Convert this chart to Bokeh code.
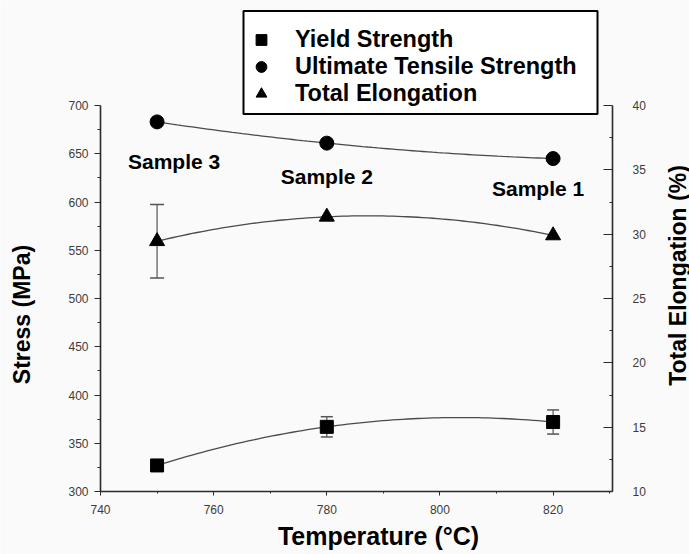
import math
import numpy as np
from bokeh.plotting import figure
from bokeh.models import (Range1d, LinearAxis, Legend, LegendItem, Whisker, TeeHead,
                          ColumnDataSource, BoxAnnotation, FixedTicker, Label)
from bokeh.embed import file_html
from bokeh.resources import INLINE
from bokeh.core.properties import value

# ---------------- data ----------------
temperature = [750, 780, 820]
yield_strength = [327, 367, 372]
yield_err = [0, 10.5, 12.5]
uts = [683, 661, 645]
uts_err = [0, 0, 0]
elongation = [29.45, 31.35, 29.9]
elong_err = [2.85, 0, 0]
sample_names = ["Sample 3", "Sample 2", "Sample 1"]

x_ticks = [740, 760, 780, 800, 820]
x_end = 830.5
stress_ticks = [300, 350, 400, 450, 500, 550, 600, 650, 700]
elong_ticks = [10, 15, 20, 25, 30, 35, 40]

x_title = "Temperature (°C)"
y_title = "Stress (MPa)"
y2_title = "Total Elongation (%)"

# ---------------- style / layout ----------------
W, H = 689, 554
BG = "#fafafa"
FONT = "Liberation Sans"
AX = "#2a2a2a"
LINE = "#4a4a4a"

# pixel box of the axes inside the canvas
AX_L, AX_R, AX_T, AX_B = 100, 612, 105, 491

def minors(t, extra=None):
    m = [(a + b) / 2 for a, b in zip(t, t[1:])]
    if extra is not None:
        m.append(extra)
    return m

def extend(lo, hi, p_lo, p_hi, before, after):
    per = (hi - lo) / (p_hi - p_lo)
    return lo - before * per, hi + after * per

x_lo = x_ticks[0]
s_lo, s_hi = stress_ticks[0], stress_ticks[-1]
e_lo, e_hi = elong_ticks[0], elong_ticks[-1]
xr = extend(x_lo, x_end, AX_L, AX_R, AX_L, W - AX_R)
sr = extend(s_lo, s_hi, AX_T, AX_B, H - AX_B, AX_T)
er = extend(e_lo, e_hi, AX_T, AX_B, H - AX_B, AX_T)

p = figure(width=W, height=H, x_range=Range1d(*xr), y_range=Range1d(*sr),
           output_backend="svg", toolbar_location=None,
           min_border_left=0, min_border_right=0, min_border_top=0, min_border_bottom=0,
           background_fill_color=BG, border_fill_color=BG)
p.extra_y_ranges = {"elong": Range1d(*er)}
p.outline_line_color = None
p.grid.visible = False

# bottom axis
xa = p.xaxis[0]
xa.fixed_location = s_lo
xa.bounds = (x_lo, x_end)
xa.ticker = FixedTicker(ticks=x_ticks, minor_ticks=minors(x_ticks, 830))
xa.major_tick_out = 4
xa.major_tick_in = 0
xa.minor_tick_out = 2
xa.minor_tick_in = 0
xa.major_label_standoff = 9

# left axis
ya = p.yaxis[0]
ya.fixed_location = x_lo
ya.bounds = (s_lo, s_hi)
ya.ticker = FixedTicker(ticks=stress_ticks, minor_ticks=minors(stress_ticks))
ya.major_tick_out = 6
ya.major_tick_in = 0
ya.minor_tick_out = 3
ya.minor_tick_in = 0
ya.major_label_standoff = 6

# right axis
ra = LinearAxis(y_range_name="elong", fixed_location=x_end,
                ticker=FixedTicker(ticks=elong_ticks, minor_ticks=minors(elong_ticks)))
ra.bounds = (e_lo, e_hi)
ra.major_tick_in = 9
ra.major_tick_out = 0
ra.minor_tick_in = 3
ra.minor_tick_out = 0
ra.major_label_standoff = 20
p.add_layout(ra, "right")

for ax in (xa, ya, ra):
    ax.axis_line_color = AX
    ax.axis_line_width = 1.6
    ax.major_tick_line_color = AX
    ax.minor_tick_line_color = AX
    ax.major_label_text_font = FONT
    ax.major_label_text_font_size = "12px"
    ax.major_label_text_color = "#3a3a3a"

# axis titles (screen units, measured from the frame's bottom-left = canvas bottom-left)
title_style = dict(x_units="screen", y_units="screen", text_font=FONT,
                   text_font_style="bold", text_color="black",
                   text_align="center", text_baseline="middle")
p.add_layout(Label(x=378, y=19, text=x_title, text_font_size="25px", **title_style))
p.add_layout(Label(x=21, y=240, text=y_title, angle=math.pi / 2,
                   text_font_size="23px", **title_style))
p.add_layout(Label(x=677, y=279, text=y2_title, angle=math.pi / 2,
                   text_font_size="23px", **title_style))

# ---------------- trend curves through the data ----------------
xs = np.linspace(temperature[0], temperature[-1], 80)
for vals, rng in ((yield_strength, "default"), (uts, "default"), (elongation, "elong")):
    coef = np.polyfit(temperature, vals, 2)
    p.line(xs, np.polyval(coef, xs), line_color=LINE, line_width=1.3, y_range_name=rng)

# ---------------- error bars ----------------
def add_whisker(vals, errs, rng, cap):
    idx = [i for i, e in enumerate(errs) if e > 0]
    if not idx:
        return
    src = ColumnDataSource(dict(
        base=[temperature[i] for i in idx],
        upper=[vals[i] + errs[i] for i in idx],
        lower=[vals[i] - errs[i] for i in idx]))
    w = Whisker(source=src, base="base", upper="upper", lower="lower", dimension="height",
                line_color="#555555", line_width=1.2, y_range_name=rng,
                upper_head=TeeHead(size=cap, line_color="#555555", line_width=1.5),
                lower_head=TeeHead(size=cap, line_color="#555555", line_width=1.5))
    w.level = "underlay"
    p.add_layout(w)

add_whisker(yield_strength, yield_err, "default", 12)
add_whisker(uts, uts_err, "default", 12)
add_whisker(elongation, elong_err, "elong", 14)

# ---------------- markers ----------------
r_ys = p.scatter(temperature, yield_strength, marker="square", size=13, color="black")
r_uts = p.scatter(temperature, uts, marker="circle", size=14, color="black")
r_el = p.scatter(temperature, elongation, marker="triangle", size=15, color="black",
                 y_range_name="elong")

# sample labels, placed relative to the UTS points
label_src = ColumnDataSource(dict(x=temperature, y=uts, text=sample_names,
                                  xo=[17, 0, -15], yo=[40, 33, 30]))
p.text(x="x", y="y", text="text", x_offset="xo", y_offset="yo", source=label_src,
       text_font=value(FONT), text_font_style="bold", text_font_size="21px",
       text_align="center", text_baseline="middle", text_color="black")

# ---------------- legend ----------------
box = BoxAnnotation(left=243, right=597, top=H - 10.5, bottom=H - 113.5,
                    left_units="screen", right_units="screen",
                    top_units="screen", bottom_units="screen",
                    fill_color="white", fill_alpha=1.0,
                    line_color="black", line_alpha=1.0, line_width=2)
p.add_layout(box)

legend = Legend(items=[LegendItem(label="Yield Strength", renderers=[r_ys]),
                       LegendItem(label="Ultimate Tensile Strength", renderers=[r_uts]),
                       LegendItem(label="Total Elongation", renderers=[r_el])],
                location=(245, H - 107), orientation="vertical",
                glyph_width=32, glyph_height=27, label_height=27, spacing=0,
                padding=0, margin=0, label_standoff=18,
                label_text_font=FONT, label_text_font_size="23.5px",
                label_text_font_style="bold", label_text_color="black",
                border_line_alpha=0, background_fill_alpha=0)
p.add_layout(legend)

open("out.html", "w").write(file_html(p, INLINE))
